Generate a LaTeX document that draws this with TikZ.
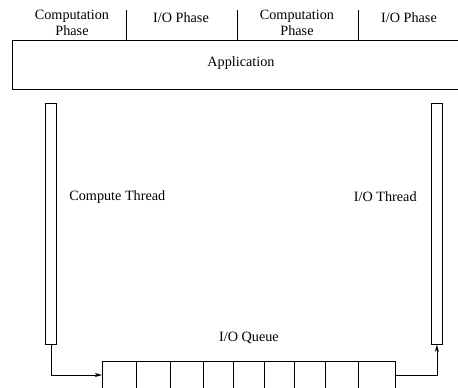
\documentclass[tikz,border=0pt]{standalone}
\usepackage{fontspec}
\setmainfont{Liberation Serif}
\usetikzlibrary{arrows.meta}
\begin{document}
\begin{tikzpicture}[x=1pt,y=-1pt,
  line width=0.8pt,
  every node/.style={font=\fontsize{14.2}{15.5}\selectfont, inner sep=0pt},
  box/.style={draw, anchor=north west, rectangle},
  bar/.style={draw, anchor=north west, minimum width=11pt, minimum height=241pt},
  lbl/.style={align=center},
  arr/.style={-{Stealth[length=7pt,width=4pt,inset=2pt]}}
]
\useasboundingbox (0,0) rectangle (458,388);
\clip (0,0) rectangle (458,388);

% application block with its phase strip
\node[box, minimum width=460pt, minimum height=49pt] (app) at (12,40) {};
\node at (241,63) (applbl) {Application};
\draw (126,10) -- (126,40);
\draw (237,10) -- (237,40);
\draw (358,10) -- (358,40);
\node[lbl] (ph1) at (72,23) {Computation\\Phase};
\node[lbl] (ph2) at (181,18) {I/O Phase};
\node[lbl] (ph3) at (297,23) {Computation\\Phase};
\node[lbl] (ph4) at (409,18) {I/O Phase};

% thread bars
\node[bar] (ct) at (45,103) {};
\node[bar] (it) at (431,103) {};
\node[anchor=west] (ctl) at (69,197) {Compute Thread};
\node[anchor=east] (itl) at (417,197) {I/O Thread};

% queue
\node[box, minimum width=293pt, minimum height=45pt] (q) at (102,361) {};
\foreach \x in {136,170,203,233,264,294,325,358}
  \draw (\x,361) -- (\x,406);
\node (ql) at (249,338) {I/O Queue};

\coordinate (qin) at (102,375);
\coordinate (qout) at (395,375);
\draw[arr] (ct.south) |- (qin);
\draw[arr] (qout) -| (it.south);
\end{tikzpicture}
\end{document}
